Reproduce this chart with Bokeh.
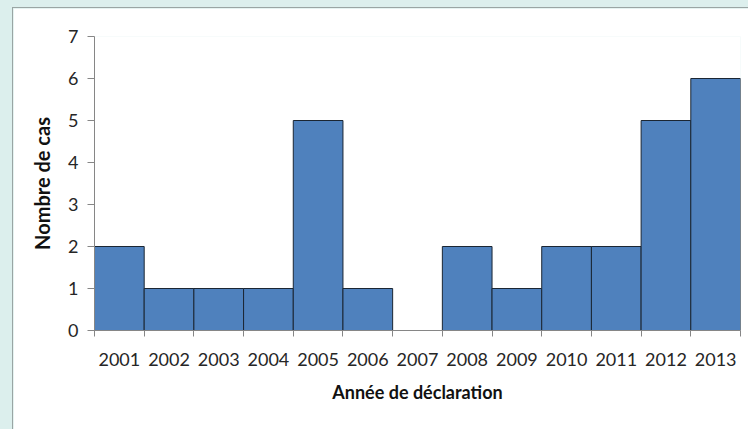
from bokeh.plotting import figure
from bokeh.models import Range1d, FixedTicker, ColumnDataSource
from bokeh.layouts import column
from bokeh.embed import file_html
from bokeh.resources import INLINE

years = [2001, 2002, 2003, 2004, 2005, 2006, 2007, 2008, 2009, 2010, 2011, 2012, 2013]
cases = [2, 1, 1, 1, 5, 1, 0, 2, 1, 2, 2, 5, 6]
y_ticks = [0, 1, 2, 3, 4, 5, 6, 7]

FONT = "Lato"
src = ColumnDataSource(dict(x=years, top=cases))

p = figure(width=736, height=422,
           x_range=Range1d(years[0] - 0.5, years[-1] + 0.5),
           y_range=Range1d(0, 7),
           output_backend="svg", toolbar_location=None,
           min_border_left=81, min_border_right=9, min_border_top=28, min_border_bottom=100,
           x_axis_label="Année de déclaration", y_axis_label="Nombre de cas")
p.vbar(x="x", top="top", width=1, source=src, fill_color="#4f81bd",
       line_color="#1b2633", line_width=1)

p.xgrid.visible = False
p.ygrid.visible = False
p.outline_line_color = None
p.background_fill_color = "white"
p.border_fill_color = "white"

xa = p.xaxis[0]
xa.ticker = FixedTicker(ticks=years, minor_ticks=[y - 0.5 for y in years] + [years[-1] + 0.5])
xa.major_tick_out = 0
xa.major_tick_in = 0
xa.minor_tick_out = 6
xa.minor_tick_in = 0
xa.minor_tick_line_color = "#868686"
xa.axis_line_color = "#868686"
xa.major_label_standoff = 16
xa.major_label_text_font = FONT
xa.major_label_text_font_size = "18px"
xa.major_label_text_color = "#262626"
xa.axis_label_text_font = FONT
xa.axis_label_text_font_style = "bold"
xa.axis_label_text_font_size = "18px"
xa.axis_label_text_color = "#111111"
xa.axis_label_standoff = 12

ya = p.yaxis[0]
ya.ticker = FixedTicker(ticks=y_ticks)
ya.major_tick_out = 7
ya.major_tick_in = 0
ya.minor_tick_out = 0
ya.minor_tick_in = 0
ya.major_tick_line_color = "#868686"
ya.axis_line_color = "#868686"
ya.major_label_standoff = 9
ya.major_label_text_font = FONT
ya.major_label_text_font_size = "18px"
ya.major_label_text_color = "#262626"
ya.axis_label_text_font = FONT
ya.axis_label_text_font_style = "bold"
ya.axis_label_text_font_size = "20px"
ya.axis_label_text_color = "#111111"
ya.axis_label_standoff = 11

p.styles = {"margin-left": "12px", "margin-top": "7px",
            "border-left": "1px solid #9aa5a4", "border-top": "1px solid #9aa5a4"}

layout = column(p, width=748, height=429, styles={"background-color": "#dcefed"})

open("out.html", "w").write(file_html(layout, INLINE))
